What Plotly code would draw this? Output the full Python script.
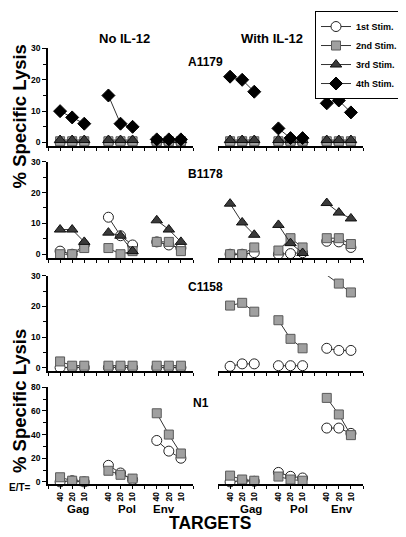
import plotly.graph_objects as go

# ---------------- data ----------------
TARGETS = ["Gag", "Pol", "Env"]
ET_RATIOS = ["40", "20", "10"]
STIMS = ["1st Stim.", "2nd Stim.", "3rd Stim.", "4th Stim."]
DONORS = ["A1179", "B1178", "C1158", "N1"]
CONDITIONS = ["No IL-12", "With IL-12"]

# values ordered Gag 40/20/10, Pol 40/20/10, Env 40/20/10
A1179_NO_1ST = [0.0, 0.0, 0.0, 0.0, 0.0, 0.0, 0.0, 0.0, 0.0]
A1179_NO_2ND = [0.4, 0.4, 0.4, 0.4, 0.4, 0.4, 0.4, 0.4, 0.4]
A1179_NO_3RD = [0.8, 0.8, 0.8, 0.8, 0.8, 0.8, 0.8, 0.8, 0.8]
A1179_NO_4TH = [10, 8, 6, 15, 6, 5, 1, 1, 1]
A1179_IL_1ST = [0.0, 0.0, 0.0, 0.0, 0.0, 0.0, 0.0, 0.0, 0.0]
A1179_IL_2ND = [0.4, 0.4, 0.4, 0.4, 0.4, 0.4, 0.4, 0.4, 0.4]
A1179_IL_3RD = [0.8, 0.8, 0.8, 0.8, 0.8, 0.8, 0.8, 0.8, 0.8]
A1179_IL_4TH = [21, 20, 16.2, 4.5, 1.4, 1.4, 12.5, 13.4, 9.6]

B1178_NO_1ST = [1, 0, 3, 12, 6, 3, 4, 3, 2]
B1178_NO_2ND = [0, 0, 2, 2, 0, 1, 4, 4, 1]
B1178_NO_3RD = [8, 8, 4, 7, 6, 1, 11, 8, 4]
B1178_IL_1ST = [0, 0, 0.5, 0, 0.2, 0.5, 4.2, 4, 2.2]
B1178_IL_2ND = [0, 0, 2.2, 1.2, 5.2, 2.2, 5.2, 5.2, 3.3]
B1178_IL_3RD = [16.4, 10.3, 6.3, 9.5, 3.6, 0.4, 16.6, 13.5, 11.6]

C1158_NO_1ST = [0, 0, 0, 0, 0, 0, 0, 0, 0]
C1158_NO_2ND = [2, 0.6, 0.6, 0.6, 0.6, 0.6, 0.6, 0.6, 0.6]
C1158_IL_1ST = [0.4, 1.2, 1.2, 0.6, 0.6, 0.6, 6.3, 5.6, 5.6]
C1158_IL_2ND = [20.3, 21.2, 18.3, 15.5, 9.4, 6.3, 30.3, 27.5, 24.6]

N1_NO_1ST = [0, 1, 0, 14, 7.5, 2, 35, 26, 20]
N1_NO_2ND = [3.9, 1, 0.5, 9.4, 6, 2.8, 58, 40, 24]
N1_IL_1ST = [0, 1, 0.5, 8, 4.7, 3.3, 45.5, 45.5, 41]
N1_IL_2ND = [5.3, 2, 1, 4.5, 2, 1, 71, 57, 39.5]

PANELS = {
    ("A1179", 0): [A1179_NO_1ST, A1179_NO_2ND, A1179_NO_3RD, A1179_NO_4TH],
    ("A1179", 1): [A1179_IL_1ST, A1179_IL_2ND, A1179_IL_3RD, A1179_IL_4TH],
    ("B1178", 0): [B1178_NO_1ST, B1178_NO_2ND, B1178_NO_3RD, None],
    ("B1178", 1): [B1178_IL_1ST, B1178_IL_2ND, B1178_IL_3RD, None],
    ("C1158", 0): [C1158_NO_1ST, C1158_NO_2ND, None, None],
    ("C1158", 1): [C1158_IL_1ST, C1158_IL_2ND, None, None],
    ("N1", 0): [N1_NO_1ST, N1_NO_2ND, None, None],
    ("N1", 1): [N1_IL_1ST, N1_IL_2ND, None, None],
}
Y_MAX = {"A1179": 30, "B1178": 30, "C1158": 30, "N1": 80}
Y_DTICK = {"A1179": 10, "B1178": 10, "C1158": 10, "N1": 20}

# ---------------- styles / layout ----------------
PAGE_OFF = 8                      # default body margin of the html page
W, H = 406 - PAGE_OFF, 537 - PAGE_OFF
FONT = "Liberation Sans, Arial, sans-serif"
MARKERS = [
    dict(symbol="circle", size=10, color="white", line=dict(color="#222", width=1)),
    dict(symbol="square", size=9, color="#a0a0a0", line=dict(color="#5a5a5a", width=1)),
    dict(symbol="triangle-up", size=10, color="#3a3a3a", line=dict(color="#111", width=1)),
    dict(symbol="diamond", size=10, color="black", line=dict(color="black", width=1)),
]
COL_PX = [(48, 193), (218, 363)]
ROW_PX = [(44, 143, -1.1), (159, 257, -1.3), (275, 372, -1.3), (388, 486, -1.6)]


def px_x(p):
    return (p - PAGE_OFF) / W


def px_y(p):
    return 1 - (p - PAGE_OFF) / H


# x positions: group g, ratio j -> 4*g + j + 1, with gaps between groups
XS, IDX = [], []
for g in range(len(TARGETS)):
    for j in range(len(ET_RATIOS)):
        XS.append(4 * g + j + 1)
        IDX.append(g * len(ET_RATIOS) + j)
    XS.append(None)
    IDX.append(None)

fig = go.Figure()
layout = {}
for r, donor in enumerate(DONORS):
    top, bot, ymin = ROW_PX[r]
    for c in range(2):
        k = r * 2 + c + 1
        xa = "x" if k == 1 else f"x{k}"
        ya = "y" if k == 1 else f"y{k}"
        series = PANELS[(donor, c)]
        for s, vals in enumerate(series):
            if vals is None:
                continue
            ys = [vals[i] if i is not None else None for i in IDX]
            fig.add_trace(go.Scatter(
                x=XS, y=ys, xaxis=xa, yaxis=ya, mode="lines+markers",
                name=STIMS[s], legendgroup=STIMS[s], showlegend=(k == 1),
                line=dict(color="#333", width=1), marker=MARKERS[s],
                connectgaps=False, cliponaxis=False,
            ))
        bottom = (r == len(DONORS) - 1)
        tickvals = list(range(0, 13))
        ticktext = []
        for t in tickvals:
            if t % 4 == 0:
                ticktext.append("")
            else:
                ticktext.append(ET_RATIOS[(t % 4) - 1])
        layout[f"xaxis{k}"] = dict(
            domain=[px_x(COL_PX[c][0]), px_x(COL_PX[c][1])], range=[0, 12],
            anchor=ya, showline=True, linecolor="black", linewidth=1.5,
            ticks="outside", ticklen=3, tickwidth=1, tickcolor="black",
            tickvals=tickvals, ticktext=ticktext, showticklabels=bottom,
            tickangle=-90, tickfont=dict(size=8.5, family=FONT, color="black", weight="bold"),
            showgrid=False, zeroline=False, fixedrange=True,
        )
        ycfg = dict(
            domain=[px_y(bot), px_y(top)], range=[ymin, Y_MAX[donor]],
            anchor=xa, showgrid=False, zeroline=False,
        )
        if c == 0:
            ycfg.update(
                showline=True, linecolor="black", linewidth=1.5,
                ticks="outside", ticklen=4, tickwidth=1, tickcolor="black",
                tick0=0, dtick=Y_DTICK[donor],
                minor=dict(dtick=Y_DTICK[donor] / 2, ticks="outside", ticklen=3,
                           tickcolor="black", tickwidth=1),
                tickfont=dict(size=8.5, family=FONT, color="black", weight="bold"),
            )
        else:
            ycfg.update(showline=False, showticklabels=False, ticks="")
        layout[f"yaxis{k}"] = ycfg

annotations = []


def ann(text, x, y, size, **kw):
    d = dict(text=text, x=px_x(x), y=px_y(y), xref="paper", yref="paper",
             xanchor="center", yanchor="middle",
             showarrow=False, font=dict(size=size, family=FONT, color="black", weight="bold"))
    d.update(kw)
    annotations.append(d)


ann(CONDITIONS[0], 124, 34, 13)
ann(CONDITIONS[1], 272, 34, 13)
ann(DONORS[0], 205, 58, 12)
ann(DONORS[1], 205, 171, 12)
ann(DONORS[2], 205, 286, 12)
ann(DONORS[3], 201, 404, 12)
ann("% Specific Lysis", 19, 113, 18.5, textangle=-90)
ann("% Specific Lysis", 19, 402, 18.5, textangle=-90)
ann("E/T=", 20, 490, 10)
LABEL_X = [[78, 127, 164], [251, 299, 342]]
for c in range(2):
    for g, t in enumerate(TARGETS):
        ann(t, LABEL_X[c][g], 512, 11.5)
ann("TARGETS", 210, 526, 17.5)

fig.update_layout(
    width=W, height=H, margin=dict(l=0, r=0, t=0, b=0),
    paper_bgcolor="white", plot_bgcolor="white",
    font=dict(family=FONT, color="black"),
    annotations=annotations,
    legend=dict(x=px_x(403), y=px_y(6), xanchor="right", yanchor="top",
                bordercolor="black", borderwidth=1, bgcolor="white",
                font=dict(size=9, family=FONT, color="black", weight="bold"),
                tracegroupgap=0, itemwidth=30),
    **layout,
)

fig.write_html("out.html")
